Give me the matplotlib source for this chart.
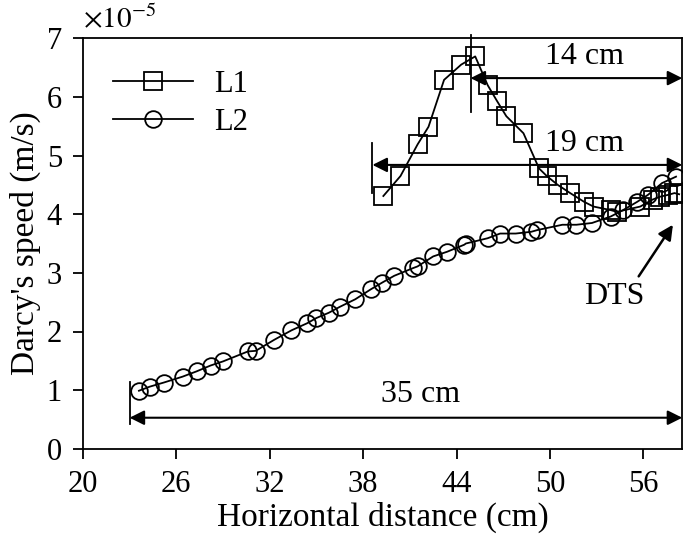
import matplotlib
matplotlib.use("Agg")
import matplotlib.pyplot as plt

plt.rcParams['font.family'] = ['Liberation Serif', 'DejaVu Serif']
plt.rcParams['mathtext.fontset'] = 'stix'

# L1 (squares) - values in units of 1e-5 m/s
l1_x = [39.3, 40.4, 41.5, 42.2, 43.2, 44.3, 45.2, 46.0, 46.6, 47.2, 48.3, 49.3, 49.8,
        50.5, 51.3, 52.2, 52.8, 53.9, 54.3, 55.8, 56.6, 57.1, 57.6, 58.0, 58.3]
l1_y = [4.31, 4.65, 5.19, 5.49, 6.29, 6.55, 6.69, 6.20, 5.93, 5.67, 5.38, 4.78, 4.65,
        4.50, 4.36, 4.21, 4.13, 4.07, 4.04, 4.13, 4.25, 4.30, 4.33, 4.36, 4.34]

# L2 (circles)
l2_x = [23.6, 24.3, 25.2, 26.4, 27.3, 28.2, 29.0, 30.6, 31.1, 32.3, 33.4, 34.4, 35.0,
        35.8, 36.5, 37.5, 38.5, 39.2, 40.0, 41.2, 41.5, 42.5, 43.4, 44.5, 44.6, 46.0,
        46.8, 47.8, 48.8, 49.2, 50.8, 51.7, 52.7, 53.9, 54.7, 55.6, 56.3, 57.2, 58.1]
l2_y = [0.99, 1.06, 1.13, 1.23, 1.32, 1.42, 1.49, 1.66, 1.67, 1.86, 2.02, 2.14, 2.23,
        2.32, 2.42, 2.55, 2.72, 2.83, 2.95, 3.08, 3.11, 3.28, 3.36, 3.48, 3.50, 3.59,
        3.67, 3.67, 3.70, 3.73, 3.82, 3.82, 3.85, 3.96, 4.07, 4.21, 4.33, 4.53, 4.64]

xticks = [20, 26, 32, 38, 44, 50, 56]
yticks = [0, 1, 2, 3, 4, 5, 6, 7]

fig = plt.figure(figsize=(6.85, 5.46), dpi=100)
ax = fig.add_axes([0.121, 0.178, 0.875, 0.752])

ax.plot(l1_x, l1_y, color='black', lw=1.3, marker='s', ms=13, mfc='none', mec='black',
        mew=1.3, label='L1')
ax.plot(l2_x, l2_y, color='black', lw=1.3, marker='o', ms=12, mfc='none', mec='black',
        mew=1.3, label='L2')

ax.set_xlim(20, 58.5)
ax.set_ylim(0, 7)
ax.set_xticks(xticks)
ax.set_yticks(yticks)
ax.tick_params(direction='out', length=7, width=1.3, labelsize=22, pad=8,
               top=False, right=False)
for s in ax.spines.values():
    s.set_linewidth(1.3)

ax.set_xlabel('Horizontal distance (cm)', fontsize=24, labelpad=2)
ax.set_ylabel("Darcy's speed (m/s)", fontsize=24, labelpad=4)
ax.text(0.0, 1.012, r'$\times10^{-5}$', transform=ax.transAxes, fontsize=21,
        ha='left', va='bottom')

ax.legend(loc='upper left', frameon=False, fontsize=22, handlelength=2.6,
          bbox_to_anchor=(0.005, 0.99), labelspacing=0.3, handletextpad=0.7)

arr = dict(arrowstyle='<|-|>', color='black', lw=1.5, mutation_scale=22, shrinkA=0, shrinkB=0)

# 14 cm
ax.annotate('', xy=(58.5, 6.32), xytext=(44.9, 6.32), arrowprops=arr)
ax.plot([44.9, 44.9], [5.75, 7.05], color='black', lw=1.3, clip_on=False)
ax.text(52.2, 6.68, '14 cm', fontsize=23, ha='center', va='center')

# 19 cm
ax.annotate('', xy=(58.5, 4.84), xytext=(38.6, 4.84), arrowprops=arr)
ax.plot([38.6, 38.6], [4.36, 5.22], color='black', lw=1.3)
ax.text(52.2, 5.21, '19 cm', fontsize=23, ha='center', va='center')

# 35 cm
ax.annotate('', xy=(58.5, 0.53), xytext=(23.0, 0.53), arrowprops=arr)
ax.plot([23.0, 23.0], [0.42, 1.14], color='black', lw=1.3)
ax.text(41.7, 0.92, '35 cm', fontsize=23, ha='center', va='center')

# DTS
ax.annotate('', xy=(57.9, 3.82), xytext=(55.7, 2.94),
            arrowprops=dict(arrowstyle='-|>', color='black', lw=1.8, mutation_scale=22,
                            shrinkA=0, shrinkB=0))
ax.text(54.1, 2.59, 'DTS', fontsize=23, ha='center', va='center')

fig.savefig('out.png', dpi=100)
